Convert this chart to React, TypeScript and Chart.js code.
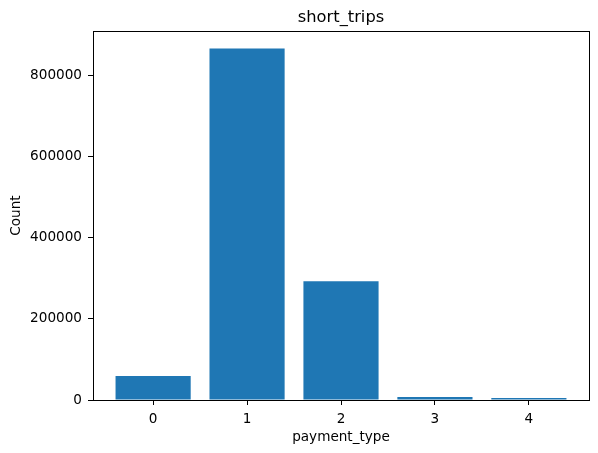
import React, { useEffect, useRef } from "react";
import { Chart, registerables } from "chart.js";

Chart.register(...registerables);

const categories = [0, 1, 2, 3, 4];
const counts = [59000, 866500, 292900, 7400, 4900];
const yTicks = [0, 200000, 400000, 600000, 800000];
const titleText = "short_trips";
const xLabel = "payment_type";
const yLabel = "Count";

const FONT = "'DejaVu Sans', sans-serif";
const FS = 13.6;

const framePlugin = {
  id: "frame",
  afterDraw(chart: any) {
    const { ctx, chartArea } = chart;
    const { left, right, top, bottom } = chartArea;
    ctx.save();
    ctx.strokeStyle = "#000";
    ctx.lineWidth = 1;
    ctx.strokeRect(Math.round(left) + 0.5, Math.round(top) + 0.5, Math.round(right - left), Math.round(bottom - top));
    ctx.fillStyle = "#000";
    ctx.textAlign = "center";
    ctx.font = `16.3px ${FONT}`;
    ctx.textBaseline = "alphabetic";
    ctx.fillText(titleText, (left + right) / 2, 22);
    ctx.font = `${FS}px ${FONT}`;
    ctx.textBaseline = "middle";
    ctx.fillText(xLabel, (left + right) / 2, 437);
    ctx.save();
    ctx.translate(16, (top + bottom) / 2);
    ctx.rotate(-Math.PI / 2);
    ctx.fillText(yLabel, 0, 0);
    ctx.restore();
    ctx.restore();
  },
};

export default function App() {
  const ref = useRef<HTMLCanvasElement>(null);
  useEffect(() => {
    if (!ref.current) return;
    const chart = new Chart(ref.current, {
      type: "bar",
      data: {
        datasets: [
          {
            data: categories.map((c, i) => ({ x: c, y: counts[i] })),
            backgroundColor: "#1f77b4",
            borderWidth: 0,
            inflateAmount: 0,
            barPercentage: 0.8,
            categoryPercentage: 1,
          },
        ],
      },
      options: {
        animation: false,
        responsive: false,
        maintainAspectRatio: false,
        layout: { padding: { left: 0, right: 9, top: 31, bottom: 0 } },
        plugins: { legend: { display: false }, tooltip: { enabled: false }, title: { display: false } },
        scales: {
          x: {
            type: "linear",
            min: -0.64,
            max: 4.64,
            offset: false,
            afterBuildTicks: (s: any) => {
              s.ticks = categories.map((v) => ({ value: v }));
            },
            afterFit: (s: any) => {
              s.height = 53;
            },
            grid: { display: true, offset: false, drawOnChartArea: false, drawTicks: true, tickLength: 5, color: "#000" },
            border: { display: false },
            ticks: { color: "#000", font: { family: FONT, size: FS }, padding: 6, maxRotation: 0, autoSkip: false },
          },
          y: {
            type: "linear",
            min: 0,
            max: 909800,
            afterBuildTicks: (s: any) => {
              s.ticks = yTicks.map((v) => ({ value: v }));
            },
            afterFit: (s: any) => {
              s.width = 93;
            },
            grid: { display: true, drawOnChartArea: false, drawTicks: true, tickLength: 5, color: "#000" },
            border: { display: false },
            ticks: { color: "#000", font: { family: FONT, size: FS }, padding: 6, autoSkip: false, callback: (v: any) => String(v) },
          },
        },
      },
      plugins: [framePlugin],
    } as any);
    return () => chart.destroy();
  }, []);
  return (
    <div style={{ position: "fixed", left: 0, top: 0, width: 598, height: 453, background: "#fff" }}>
      <canvas ref={ref} width={598} height={453} style={{ width: 598, height: 453 }} />
    </div>
  );
}
